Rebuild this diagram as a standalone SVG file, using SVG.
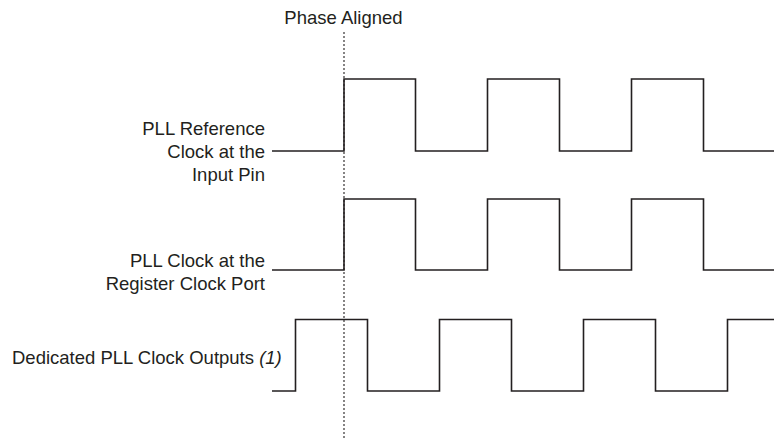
<svg xmlns="http://www.w3.org/2000/svg" width="774" height="438" viewBox="0 0 774 438">
<style>
text{font-family:"Liberation Sans",Arial,Helvetica,sans-serif;font-size:18.5px;fill:#231f20}
.lbl{text-anchor:end}
.wave{fill:none;stroke:#231f20;stroke-width:1.6;stroke-linejoin:miter}
.guide{fill:none;stroke:#231f20;stroke-width:1.1;stroke-dasharray:2 2}
</style>
<rect width="774" height="438" fill="#fff"/>
<g id="phase-aligned">
<text x="343.5" y="24" text-anchor="middle">Phase Aligned</text>
<line class="guide" x1="344" y1="32" x2="344" y2="438"/>
</g>
<g id="ref-clock">
<text class="lbl" x="265" y="135">PLL Reference</text>
<text class="lbl" x="265" y="158">Clock at the</text>
<text class="lbl" x="265" y="181">Input Pin</text>
</g>
<g id="reg-clock">
<text class="lbl" x="265" y="267">PLL Clock at the</text>
<text class="lbl" x="265" y="290">Register Clock Port</text>
</g>
<g id="dedicated-out">
<text x="12" y="364">Dedicated PLL Clock Outputs <tspan font-style="italic">(1)</tspan></text>
</g>
<g id="connectors">
<polyline class="wave" points="272,151 344,151 344,79 415.5,79 415.5,151 487.5,151 487.5,79 559.5,79 559.5,151 631.5,151 631.5,79 703.5,79 703.5,151 774,151"/>
<polyline class="wave" points="272,270 344,270 344,199 415.5,199 415.5,270 487.5,270 487.5,199 559.5,199 559.5,270 631.5,270 631.5,199 703.5,199 703.5,270 774,270"/>
<polyline class="wave" points="272,391 295.5,391 295.5,319.5 367.5,319.5 367.5,391 439.5,391 439.5,319.5 511.5,319.5 511.5,391 583.5,391 583.5,319.5 655.5,319.5 655.5,391 727.5,391 727.5,319.5 774,319.5"/>
</g>
</svg>
